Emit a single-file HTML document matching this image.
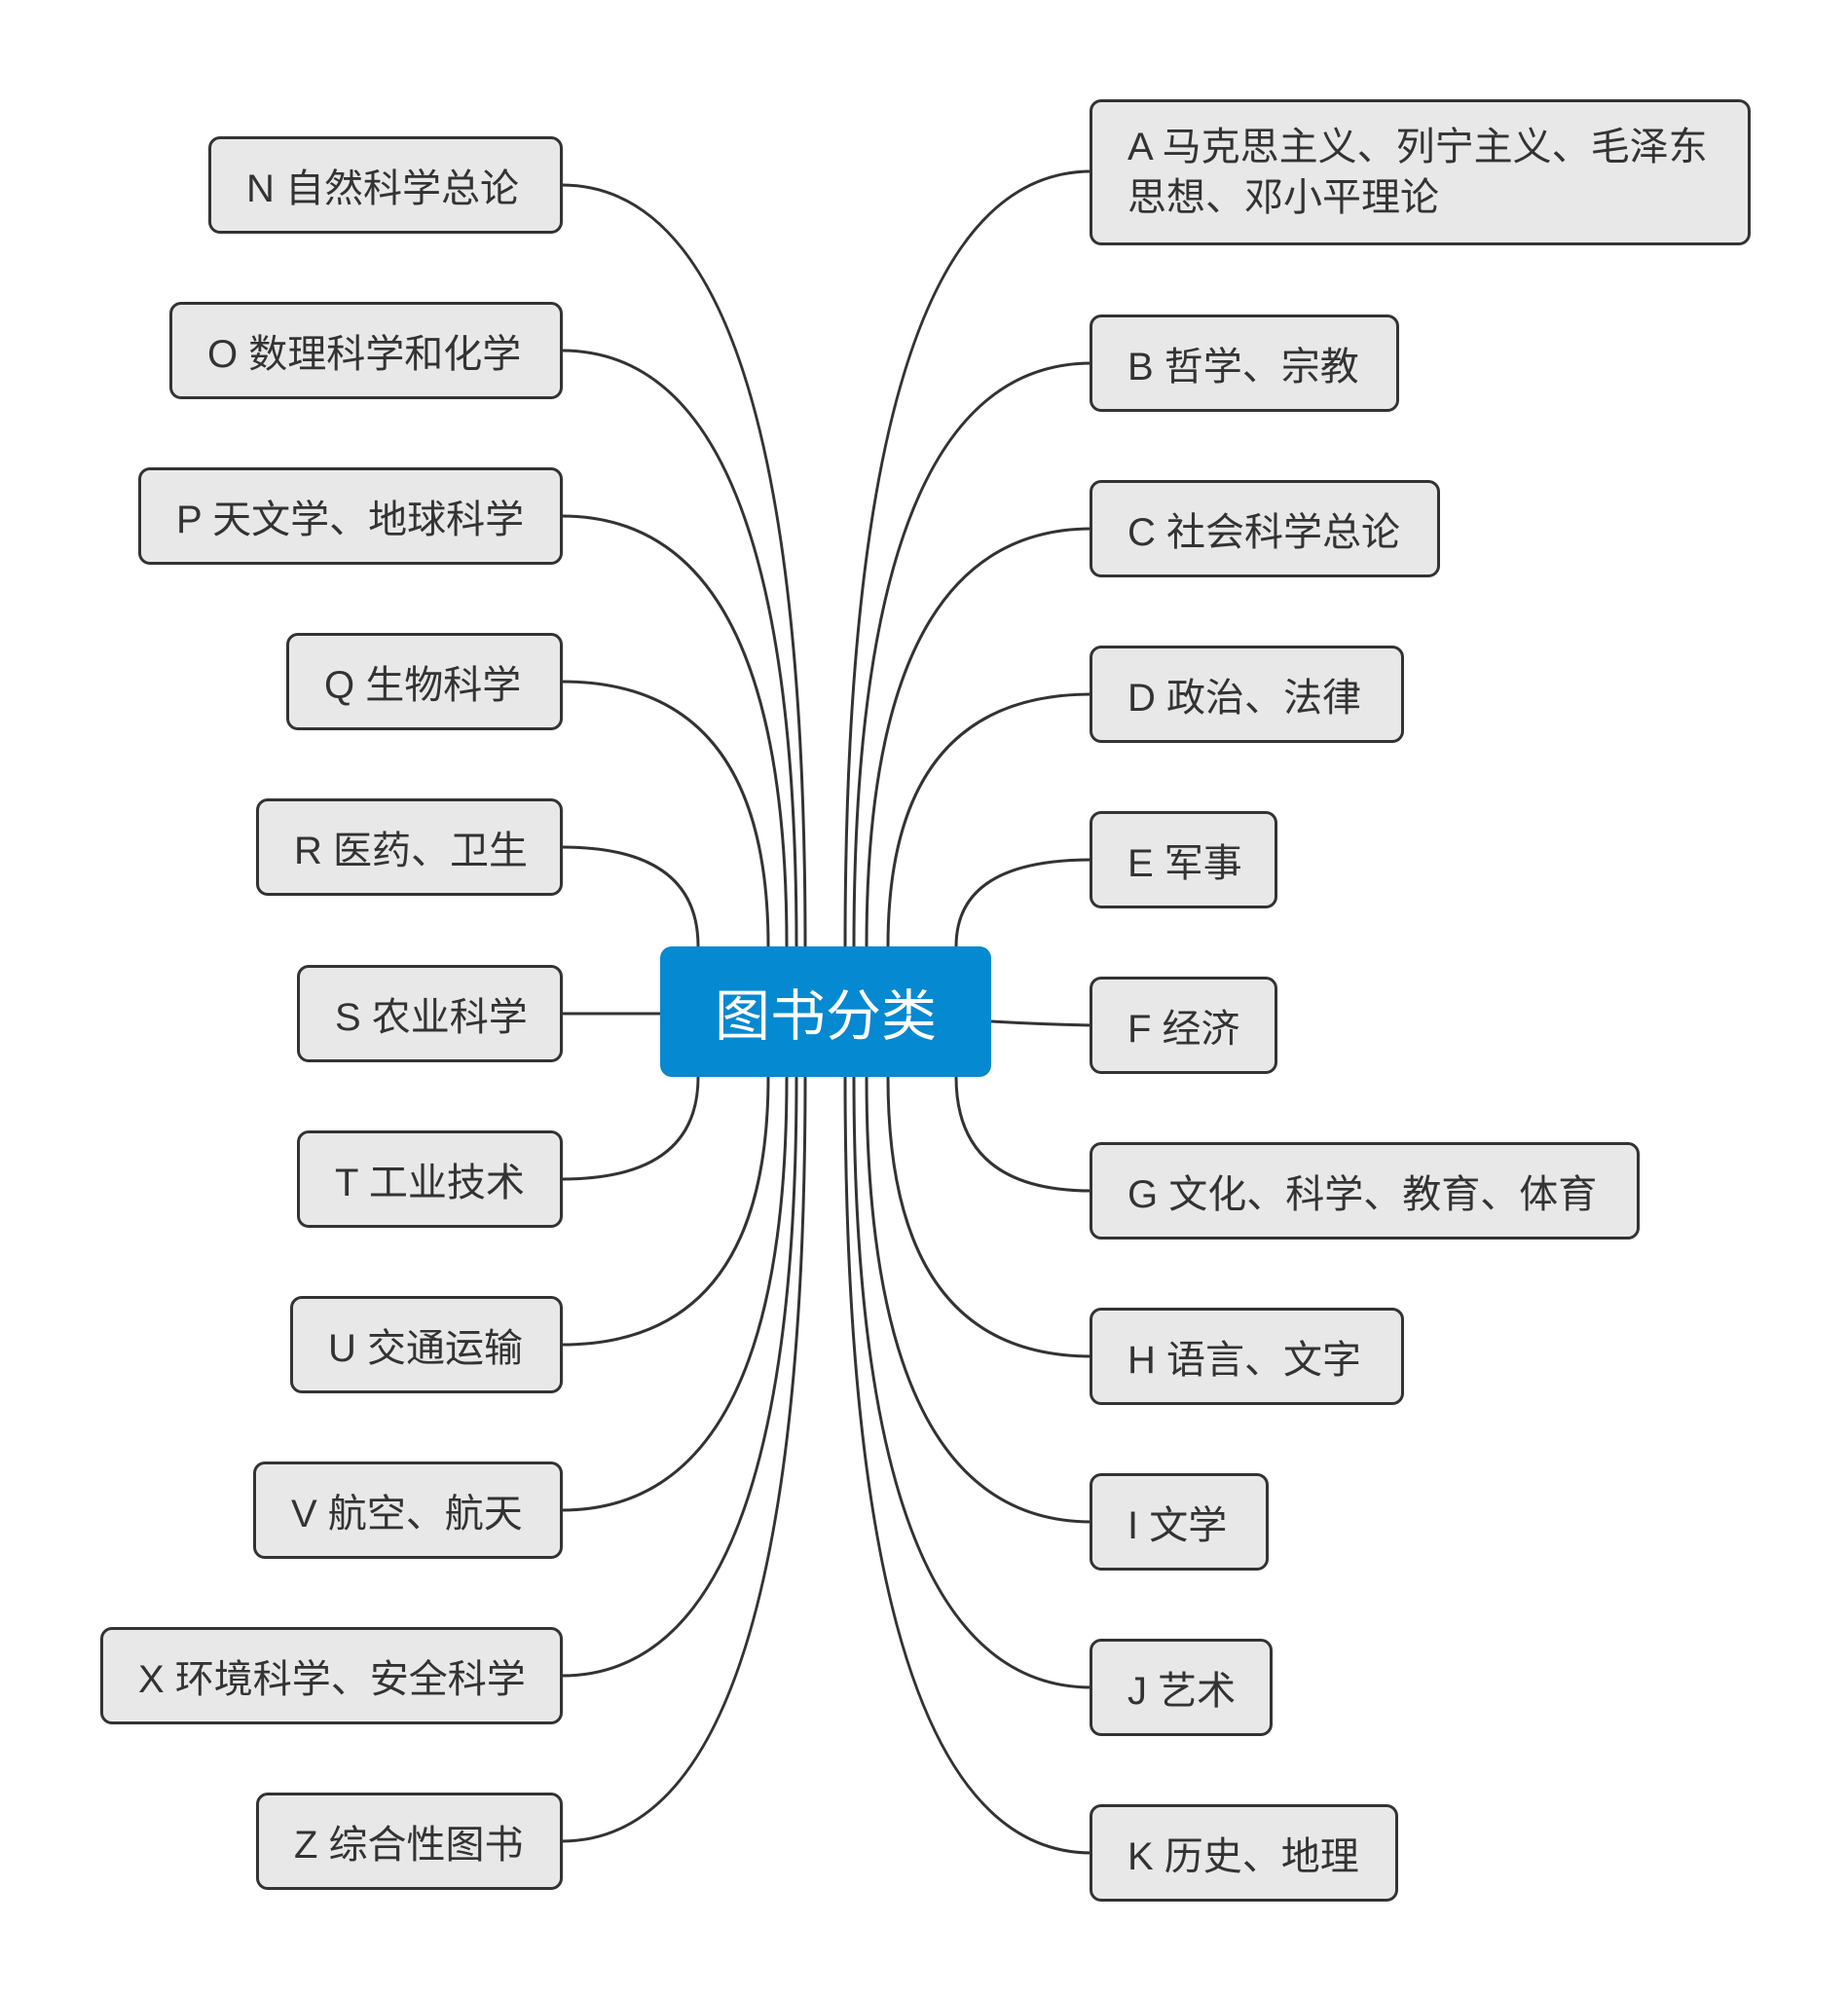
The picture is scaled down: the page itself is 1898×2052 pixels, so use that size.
<!DOCTYPE html>
<html><head><meta charset="utf-8"><style>
body{margin:0;width:1898px;height:2052px;background:#fff;position:relative;overflow:hidden;font-family:"Liberation Sans","Noto Sans CJK SC",sans-serif;}
.b{position:absolute;box-sizing:border-box;height:100px;border:3.5px solid #333;border-radius:12px;background:#e8e8e8;color:#333;font-size:40px;display:flex;align-items:center;padding-left:36px;white-space:nowrap;}
svg{position:absolute;left:0;top:0}
.c{position:absolute;left:678px;top:972px;width:340px;height:134px;background:#0589d1;border-radius:12px;color:#fff;font-size:57px;display:flex;align-items:center;justify-content:center;}
</style></head><body>
<svg width="1898" height="2052" fill="none" stroke="#333" stroke-width="3">
<path d="M577 190 Q827 190 827 972"/>
<path d="M577 360 Q818 360 818 972"/>
<path d="M577 530 Q808 530 808 972"/>
<path d="M577 700 Q789 700 789 972"/>
<path d="M577 870 Q717 870 717 972"/>
<path d="M577 1041 L678 1041"/>
<path d="M577 1211 Q717 1211 717 1106"/>
<path d="M577 1381 Q789 1381 789 1106"/>
<path d="M577 1551 Q808 1551 808 1106"/>
<path d="M577 1721 Q818 1721 818 1106"/>
<path d="M577 1891 Q827 1891 827 1106"/>
<path d="M1121 176 Q868 176 868 972"/>
<path d="M1121 373 Q877 373 877 972"/>
<path d="M1121 543 Q890 543 890 972"/>
<path d="M1121 713 Q912 713 912 972"/>
<path d="M1121 883 Q982 883 982 972"/>
<path d="M1018 1049 Q1070 1052 1121 1053"/>
<path d="M1121 1223 Q982 1223 982 1106"/>
<path d="M1121 1393 Q912 1393 912 1106"/>
<path d="M1121 1563 Q890 1563 890 1106"/>
<path d="M1121 1733 Q877 1733 877 1106"/>
<path d="M1121 1903 Q868 1903 868 1106"/>
</svg>
<div class="c">图书分类</div>
<div class="b" style="left:214px;top:140px;width:364px">N 自然科学总论</div>
<div class="b" style="left:174px;top:310px;width:404px">O 数理科学和化学</div>
<div class="b" style="left:142px;top:480px;width:436px">P 天文学、地球科学</div>
<div class="b" style="left:294px;top:650px;width:284px">Q 生物科学</div>
<div class="b" style="left:263px;top:820px;width:315px">R 医药、卫生</div>
<div class="b" style="left:305px;top:991px;width:273px">S 农业科学</div>
<div class="b" style="left:305px;top:1161px;width:273px">T 工业技术</div>
<div class="b" style="left:298px;top:1331px;width:280px">U 交通运输</div>
<div class="b" style="left:260px;top:1501px;width:318px">V 航空、航天</div>
<div class="b" style="left:103px;top:1671px;width:475px">X 环境科学、安全科学</div>
<div class="b" style="left:263px;top:1841px;width:315px">Z 综合性图书</div>
<div class="b" style="left:1119px;top:102px;width:679px;height:150px;line-height:52px">A 马克思主义、列宁主义、毛泽东<br>思想、邓小平理论</div>
<div class="b" style="left:1119px;top:323px;width:318px">B 哲学、宗教</div>
<div class="b" style="left:1119px;top:493px;width:360px">C 社会科学总论</div>
<div class="b" style="left:1119px;top:663px;width:323px">D 政治、法律</div>
<div class="b" style="left:1119px;top:833px;width:193px">E 军事</div>
<div class="b" style="left:1119px;top:1003px;width:193px">F 经济</div>
<div class="b" style="left:1119px;top:1173px;width:565px">G 文化、科学、教育、体育</div>
<div class="b" style="left:1119px;top:1343px;width:323px">H 语言、文字</div>
<div class="b" style="left:1119px;top:1513px;width:184px">I 文学</div>
<div class="b" style="left:1119px;top:1683px;width:188px">J 艺术</div>
<div class="b" style="left:1119px;top:1853px;width:317px">K 历史、地理</div>
</body></html>
